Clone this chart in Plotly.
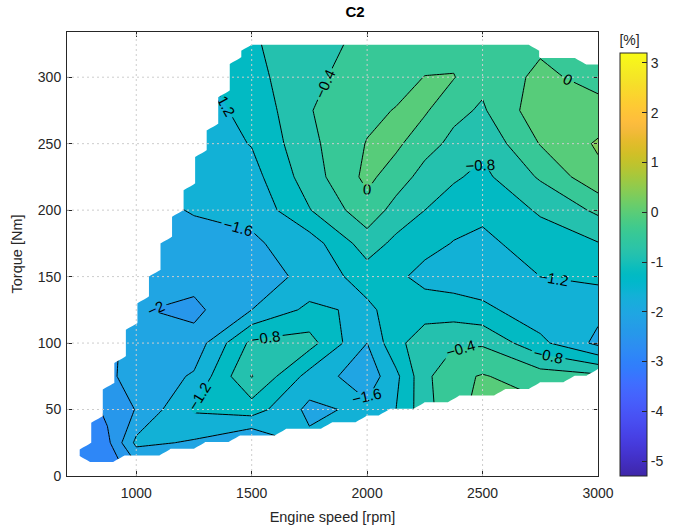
import numpy as np
import plotly.graph_objects as go

# ---------------------------------------------------------------------------
# Data: C2 deviation [%] over the engine map (rows = torque, columns = speed)
# ---------------------------------------------------------------------------
speed_rpm = [750, 875, 1000, 1250, 1500, 1750, 2000, 2125, 2250, 2375, 2500, 2750, 3000]
torque_nm = [0, 25, 50, 75, 100, 125, 150, 175, 200, 225, 250, 275, 300, 325]

c2_t000 = [-2.70, -2.60, -2.30, -2.20, -2.10, -1.70, -1.40, -1.10, -0.70, -0.20, 0.05, 0.05, 0.00]
c2_t025 = [-2.70, -2.50, -1.50, -1.65, -2.05, -1.50, -1.30, -1.10, -0.60, -0.15, 0.10, 0.10, 0.00]
c2_t050 = [-2.70, -2.30, -1.98, -1.15, -1.00, -1.70, -1.50, -1.20, -0.55, -0.10, 0.10, 0.10, 0.00]
c2_t075 = [-2.60, -2.05, -1.90, -1.55, -0.38, -1.35, -1.85, -1.30, -0.50, -0.10, 0.03, -0.20, -0.30]
c2_t100 = [-2.30, -2.10, -1.85, -1.85, -0.70, -0.65, -1.60, -0.90, -0.60, -0.45, -0.45, -1.10, -1.70]
c2_t125 = [-2.10, -1.95, -1.97, -2.10, -1.60, -1.10, -1.30, -1.00, -0.95, -1.00, -1.10, -1.45, -1.50]
c2_t150 = [-2.00, -1.95, -1.90, -1.85, -1.78, -1.50, -1.00, -1.10, -1.35, -1.40, -1.45, -1.20, -1.10]
c2_t175 = [-1.90, -1.85, -1.80, -1.70, -1.66, -1.40, -0.60, -0.90, -1.05, -1.22, -1.30, -1.00, -0.82]
c2_t200 = [-1.80, -1.75, -1.70, -1.58, -1.50, -0.82, -0.15, -0.55, -0.80, -1.00, -1.10, -0.75, -0.32]
c2_t225 = [-1.70, -1.65, -1.60, -1.50, -1.35, -0.60, 0.10, -0.20, -0.55, -0.75, -0.90, -0.35, 0.30]
c2_t250 = [-1.60, -1.55, -1.50, -1.45, -1.18, -0.50, 0.02, 0.08, -0.25, -0.50, -0.70, 0.02, 0.45]
c2_t275 = [-1.50, -1.48, -1.45, -1.35, -1.10, -0.42, -0.10, 0.02, 0.05, -0.30, -0.45, 0.25, 0.15]
c2_t300 = [-1.45, -1.43, -1.40, -1.30, -0.95, -0.47, -0.25, -0.15, 0.01, 0.02, -0.30, 0.10, -0.15]
c2_t325 = [-1.40, -1.38, -1.35, -1.25, -0.85, -0.55, -0.30, -0.25, -0.20, -0.15, -0.02, -0.08, -0.30]

# Operating envelope of the measured map (lower and upper torque limits)
lower_env_rpm = [750, 1000, 1250, 1500, 1750, 2000, 2250, 2500, 2750, 3000]
lower_env_nm = [7, 12, 20, 27, 33, 42, 52, 58, 66, 76]
upper_env_rpm = [760, 1000, 1250, 1470, 2740, 2750, 2930, 2940, 3000]
upper_env_nm = [8, 117, 222, 326, 326, 319, 319, 313, 313]

# Contour levels and colour limits
level_start, level_end, level_step = -2.4, 0.4, 0.4
clim = (-5.3, 3.2)

x_ticks = [1000, 1500, 2000, 2500, 3000]
y_ticks = [0, 50, 100, 150, 200, 250, 300]
cbar_ticks = [-5, -4, -3, -2, -1, 0, 1, 2, 3]

# ---------------------------------------------------------------------------
# Parula colormap (64 entries)
# ---------------------------------------------------------------------------
PARULA = [
    (0.2422, 0.1504, 0.6603), (0.2504, 0.1650, 0.7076), (0.2578, 0.1818, 0.7511),
    (0.2647, 0.1978, 0.7952), (0.2706, 0.2147, 0.8364), (0.2751, 0.2342, 0.8710),
    (0.2783, 0.2559, 0.8991), (0.2803, 0.2782, 0.9221), (0.2813, 0.3006, 0.9414),
    (0.2810, 0.3228, 0.9579), (0.2795, 0.3447, 0.9717), (0.2760, 0.3667, 0.9829),
    (0.2699, 0.3892, 0.9906), (0.2602, 0.4123, 0.9952), (0.2440, 0.4358, 0.9988),
    (0.2206, 0.4603, 0.9973), (0.1963, 0.4847, 0.9892), (0.1834, 0.5074, 0.9798),
    (0.1786, 0.5289, 0.9682), (0.1764, 0.5499, 0.9520), (0.1687, 0.5703, 0.9359),
    (0.1540, 0.5902, 0.9218), (0.1460, 0.6091, 0.9079), (0.1380, 0.6276, 0.8973),
    (0.1248, 0.6459, 0.8883), (0.1113, 0.6635, 0.8763), (0.0952, 0.6798, 0.8598),
    (0.0689, 0.6948, 0.8394), (0.0297, 0.7082, 0.8163), (0.0036, 0.7203, 0.7917),
    (0.0067, 0.7312, 0.7660), (0.0433, 0.7411, 0.7394), (0.0964, 0.7500, 0.7120),
    (0.1408, 0.7584, 0.6842), (0.1717, 0.7670, 0.6554), (0.1938, 0.7758, 0.6251),
    (0.2161, 0.7843, 0.5923), (0.2470, 0.7918, 0.5567), (0.2906, 0.7973, 0.5188),
    (0.3406, 0.8008, 0.4789), (0.3909, 0.8029, 0.4354), (0.4456, 0.8024, 0.3909),
    (0.5044, 0.7993, 0.3480), (0.5616, 0.7942, 0.3045), (0.6174, 0.7876, 0.2612),
    (0.6720, 0.7793, 0.2227), (0.7242, 0.7698, 0.1910), (0.7738, 0.7598, 0.1646),
    (0.8203, 0.7498, 0.1535), (0.8634, 0.7406, 0.1596), (0.9035, 0.7330, 0.1774),
    (0.9393, 0.7288, 0.2100), (0.9728, 0.7298, 0.2394), (0.9956, 0.7434, 0.2371),
    (0.9970, 0.7659, 0.2199), (0.9952, 0.7893, 0.2028), (0.9892, 0.8136, 0.1885),
    (0.9786, 0.8386, 0.1766), (0.9676, 0.8639, 0.1643), (0.9610, 0.8890, 0.1537),
    (0.9597, 0.9135, 0.1423), (0.9628, 0.9373, 0.1265), (0.9691, 0.9606, 0.1064),
    (0.9769, 0.9839, 0.0805),
]


def rgb(c):
    return "rgb(%d,%d,%d)" % tuple(int(round(255 * v)) for v in c)


def parula_color(value):
    f = (value - clim[0]) / (clim[1] - clim[0])
    idx = int(np.clip(np.floor(f * len(PARULA)), 0, len(PARULA) - 1))
    return rgb(PARULA[idx])


parula_scale = [[i / (len(PARULA) - 1), rgb(c)] for i, c in enumerate(PARULA)]

# Each filled band takes the colour of its lower contour level
levels = np.round(np.arange(level_start, level_end + 1e-9, level_step), 6)
band_lows = [level_start - level_step] + list(levels)
n_bands = len(band_lows)
band_scale = []
for j, lo in enumerate(band_lows):
    col = parula_color(lo)
    a = max(0.0, (j - 0.5) / (n_bands - 1))
    b = min(1.0, (j + 0.5) / (n_bands - 1))
    band_scale += [[a, col], [b, col]]

z = np.array([c2_t000, c2_t025, c2_t050, c2_t075, c2_t100, c2_t125, c2_t150,
              c2_t175, c2_t200, c2_t225, c2_t250, c2_t275, c2_t300, c2_t325])

# White cover outside the operating envelope, on a 50 rpm x 5 Nm lattice
mask_rpm = np.arange(650, 3051, 50)
mask_nm = np.arange(-10, 346, 5)
S, T = np.meshgrid(mask_rpm, mask_nm)
t_lo = np.interp(S, lower_env_rpm, lower_env_nm)
t_hi = np.interp(S, upper_env_rpm, upper_env_nm)
inside = (T >= t_lo + 4.5) & (T <= t_hi - 4.5)
mask_z = np.where(inside, np.nan, 0.0)

FONT = "Liberation Sans, Arial, Helvetica, sans-serif"
AX = "#262626"

fig = go.Figure()

fig.add_trace(go.Contour(
    x=speed_rpm, y=torque_nm, z=z,
    autocontour=False,
    contours=dict(start=level_start, end=level_end, size=level_step,
                  coloring="fill", showlabels=True,
                  labelfont=dict(size=15, color="black", family=FONT)),
    line=dict(color="black", width=1, smoothing=0),
    colorscale=band_scale, showscale=False, hoverinfo="skip",
))

fig.add_trace(go.Contour(
    x=mask_rpm, y=mask_nm, z=mask_z, connectgaps=False,
    autocontour=False,
    contours=dict(start=1, end=2, size=1, coloring="fill", showlines=False),
    line=dict(width=0), colorscale=[[0, "white"], [1, "white"]],
    showscale=False, hoverinfo="skip",
))

fig.add_trace(go.Scatter(
    x=[None], y=[None], mode="markers", showlegend=False, hoverinfo="skip",
    marker=dict(color=[0], colorscale=parula_scale, cmin=clim[0], cmax=clim[1],
                showscale=True,
                colorbar=dict(
                    x=1.0414, xanchor="left", xpad=0, y=0.5, yanchor="middle",
                    len=1, lenmode="fraction", ypad=0,
                    thickness=27, thicknessmode="pixels",
                    outlinewidth=1, outlinecolor=AX,
                    ticks="inside", ticklen=5, tickcolor=AX,
                    tickvals=cbar_ticks, ticktext=[str(v) for v in cbar_ticks],
                    tickfont=dict(size=14, color=AX, family=FONT),
                    title=dict(text="[%]", side="top",
                               font=dict(size=14, color=AX, family=FONT)),
                )),
))

# Dotted grid drawn on top of the filled map
grid_style = dict(color="#cdcdcd", width=1, dash="2px,3px")
shapes = []
for xv in x_ticks[:-1]:
    shapes.append(dict(type="line", xref="x", yref="paper", x0=xv, x1=xv,
                       y0=0, y1=1, line=grid_style, layer="above"))
for yv in y_ticks[1:]:
    shapes.append(dict(type="line", xref="paper", yref="y", x0=0, x1=1,
                       y0=yv, y1=yv, line=grid_style, layer="above"))

axis_common = dict(
    showline=True, linecolor=AX, linewidth=1, mirror="ticks",
    ticks="inside", ticklen=5, tickcolor=AX, showgrid=False, zeroline=False,
    tickfont=dict(size=14, color=AX, family=FONT), layer="above traces",
)

fig.update_layout(
    width=674, height=532,
    margin=dict(l=67, r=76, t=32, b=56, autoexpand=False),
    paper_bgcolor="white", plot_bgcolor="white",
    font=dict(family=FONT, color=AX),
    title=dict(text="<b>C2</b>", x=355 / 674, xref="container", xanchor="center",
               y=1 - 12 / 532, yref="container", yanchor="middle",
               font=dict(size=15, color="black", family=FONT)),
    xaxis=dict(range=[700, 3000], tickvals=x_ticks, ticklabelstandoff=4,
               title=dict(text="Engine speed [rpm]", standoff=12,
                          font=dict(size=14.5, color=AX, family=FONT)),
               **axis_common),
    yaxis=dict(range=[0, 334], tickvals=y_ticks, ticklabelstandoff=2,
               title=dict(text="Torque [Nm]", standoff=11,
                          font=dict(size=14.5, color=AX, family=FONT)),
               **axis_common),
    shapes=shapes,
)

fig.write_html("out.html")
